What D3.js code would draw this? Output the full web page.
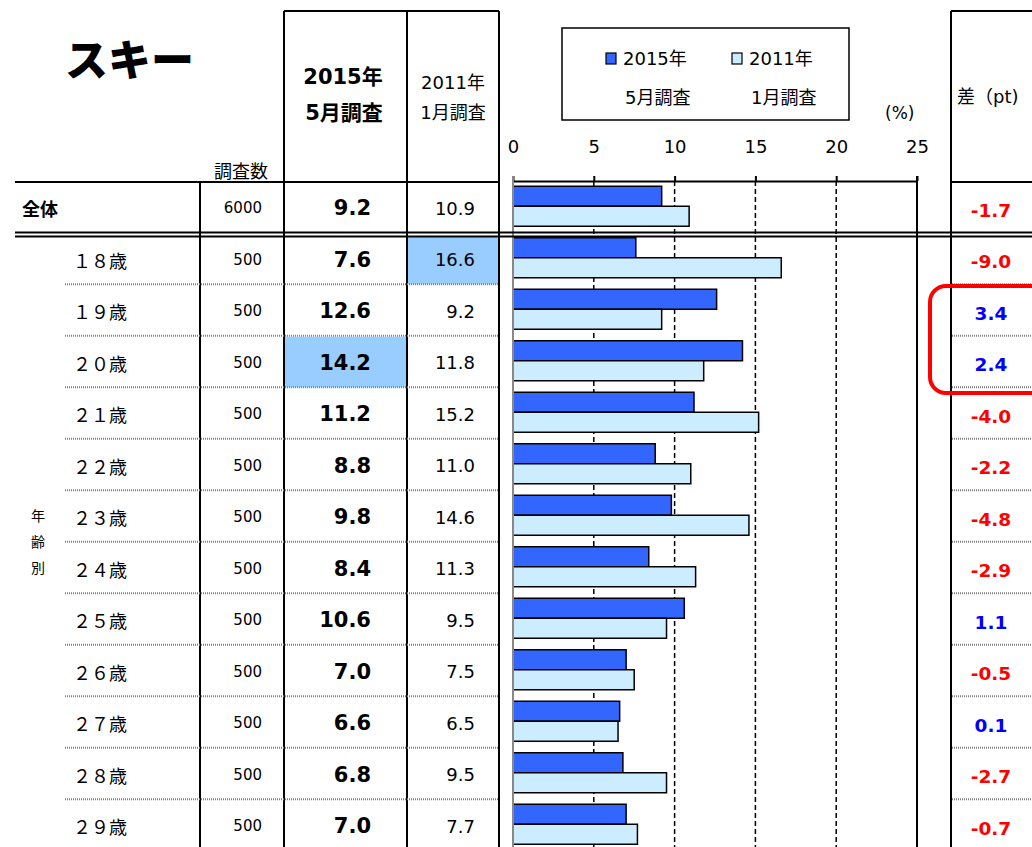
<!DOCTYPE html>
<html><head><meta charset="utf-8">
<script src="https://cdn.jsdelivr.net/npm/d3@7"></script>
<style>
body{margin:0;background:#fff;}
text{font-family:"DejaVu Sans","Noto Sans CJK JP",sans-serif;}
.jp{font-family:"Noto Sans CJK JP",sans-serif;}
</style></head>
<body>
<svg id="c" width="1032" height="847"></svg>
<script>
const title = "スキー";
const categories = ["全体","１８歳","１９歳","２０歳","２１歳","２２歳","２３歳","２４歳","２５歳","２６歳","２７歳","２８歳","２９歳"];
const sampleSizes = [6000,500,500,500,500,500,500,500,500,500,500,500,500];
const values2015 = [9.2,7.6,12.6,14.2,11.2,8.8,9.8,8.4,10.6,7.0,6.6,6.8,7.0];
const values2011 = [10.9,16.6,9.2,11.8,15.2,11.0,14.6,11.3,9.5,7.5,6.5,9.5,7.7];
const diffs = [-1.7,-9.0,3.4,2.4,-4.0,-2.2,-4.8,-2.9,1.1,-0.5,0.1,-2.7,-0.7];
const ticks = [0,5,10,15,20,25];
const seriesNames = [["2015年","5月調査"],["2011年","1月調査"]];
const highlight2015 = ["２０歳"];
const highlight2011 = ["１８歳"];

(function(){
const C_DARK="#3366FF", C_LIGHT="#CCECFF", C_HI="#99CCFF";
const svg = d3.select("#c");
const x = d3.scaleLinear().domain([0,25]).range([513,917]);
const y = d3.scaleBand().domain(categories).range([181.25,181.25+13*51.5]);
const bh = y.bandwidth();

svg.append("g").selectAll("rect").data(categories.filter(c=>highlight2011.includes(c))).join("rect")
  .attr("x",408).attr("width",90).attr("y",c=>y(c)+3.5).attr("height",bh-3.5).attr("fill",C_HI);
svg.append("g").selectAll("rect").data(categories.filter(c=>highlight2015.includes(c))).join("rect")
  .attr("x",285).attr("width",121).attr("y",c=>y(c)+1).attr("height",bh-1).attr("fill",C_HI);

const yTop=181, yBottom=y.range()[1];
svg.append("g").selectAll("line").data(ticks.filter(t=>t>0&&t<25)).join("line")
  .attr("x1",d=>x(d)).attr("x2",d=>x(d)).attr("y1",yTop).attr("y2",yBottom)
  .attr("stroke","#000").attr("stroke-width",1.5).attr("stroke-dasharray","5,3");

const bars = svg.append("g");
bars.selectAll("rect.a").data(categories).join("rect").attr("class","a")
  .attr("x",x(0)).attr("y",c=>y(c)+5).attr("height",20)
  .attr("width",(c,i)=>x(values2015[i])-x(0))
  .attr("fill",C_DARK).attr("stroke","#000").attr("stroke-width",1.5);
bars.selectAll("rect.b").data(categories).join("rect").attr("class","b")
  .attr("x",x(0)).attr("y",c=>y(c)+25).attr("height",20)
  .attr("width",(c,i)=>x(values2011[i])-x(0))
  .attr("fill",C_LIGHT).attr("stroke","#000").attr("stroke-width",1.5);

const ax = svg.append("g").attr("transform","translate(0,181)")
  .call(d3.axisTop(x).tickValues(ticks).tickSize(5).tickSizeOuter(0).tickPadding(23));
ax.select(".domain").attr("stroke","#000").attr("stroke-width",2);
ax.selectAll(".tick line").attr("stroke","#000").attr("stroke-width",2);
ax.selectAll(".tick text").attr("font-size",18).attr("fill","#000").attr("font-family","DejaVu Sans");
svg.append("line").attr("x1",x(0)).attr("x2",x(0)).attr("y1",176).attr("y2",yBottom).attr("stroke","#888").attr("stroke-width",2);
svg.append("line").attr("x1",x(25)).attr("x2",x(25)).attr("y1",176).attr("y2",yBottom).attr("stroke","#000").attr("stroke-width",2);
svg.append("text").attr("x",885).attr("y",113).attr("dominant-baseline","central").attr("font-size",17).text("(%)");

svg.append("rect").attr("x",562).attr("y",28).attr("width",287).attr("height",92).attr("fill","none").attr("stroke","#000").attr("stroke-width",1.5);
const lg = svg.append("g");
[[606,C_DARK],[732,C_LIGHT]].forEach((d,i)=>{
  lg.append("rect").attr("x",d[0]).attr("y",53).attr("width",10).attr("height",11).attr("fill",d[1]).attr("stroke","#000").attr("stroke-width",1.2);
  lg.append("text").attr("x",d[0]+17).attr("y",58).attr("dominant-baseline","central").attr("font-size",18).text(seriesNames[i][0]);
  lg.append("text").attr("x",d[0]+19).attr("y",97).attr("dominant-baseline","central").attr("font-size",18).text(seriesNames[i][1]);
});

const L = svg.append("g").attr("stroke","#000").attr("stroke-width",2);
const line=(x1,y1,x2,y2)=>L.append("line").attr("x1",x1).attr("y1",y1).attr("x2",x2).attr("y2",y2);
line(284,11,499,11); line(951,11,1040,11);
line(15,182,499,182); line(951,182,1040,182);
[284,407,499].forEach(v=>line(v,11,v,yBottom));
line(200,182,200,yBottom);
line(951,11,951,yBottom);
line(15,232.5,1040,232.5); line(15,236.5,1040,236.5);
const D = svg.append("g").attr("stroke","#808080").attr("stroke-width",2).attr("stroke-dasharray","1,1");
categories.slice(2).forEach(c=>{
  D.append("line").attr("x1",65).attr("x2",499).attr("y1",y(c)).attr("y2",y(c));
  D.append("line").attr("x1",952).attr("x2",1040).attr("y1",y(c)).attr("y2",y(c));
});

svg.append("text").attr("class","jp").attr("x",65).attr("y",57).attr("dominant-baseline","central")
  .attr("font-size",43).attr("font-weight",900).text(title);
svg.append("text").attr("class","jp").attr("x",214).attr("y",170).attr("dominant-baseline","central").attr("font-size",18).text("調査数");
svg.append("text").attr("x",343).attr("y",77).attr("text-anchor","middle").attr("dominant-baseline","central").attr("font-size",21).attr("font-weight","bold").text(seriesNames[0][0]);
svg.append("text").attr("x",344).attr("y",113).attr("text-anchor","middle").attr("dominant-baseline","central").attr("font-size",21).attr("font-weight","bold").text(seriesNames[0][1]);
svg.append("text").attr("x",453).attr("y",82).attr("text-anchor","middle").attr("dominant-baseline","central").attr("font-size",18).text(seriesNames[1][0]);
svg.append("text").attr("x",453).attr("y",112).attr("text-anchor","middle").attr("dominant-baseline","central").attr("font-size",18).text(seriesNames[1][1]);
svg.append("text").attr("x",957).attr("y",96).attr("dominant-baseline","central").attr("font-size",18).text("差（pt)");
["年","齢","別"].forEach((ch,i)=>svg.append("text").attr("class","jp").attr("x",38).attr("y",515+i*26)
  .attr("text-anchor","middle").attr("dominant-baseline","central").attr("font-size",14).text(ch));

const R = svg.append("g");
categories.forEach((c,i)=>{
  const cy = y(c)+bh/2+1;
  R.append("text").attr("class","jp").attr("x",i===0?22:73).attr("y",cy).attr("dominant-baseline","central")
    .attr("font-size",18).attr("font-weight",i===0?"bold":"normal").text(c);
  R.append("text").attr("x",262).attr("y",cy).attr("text-anchor","end").attr("dominant-baseline","central").attr("font-size",15).text(sampleSizes[i]);
  R.append("text").attr("x",371).attr("y",cy).attr("text-anchor","end").attr("dominant-baseline","central").attr("font-size",21).attr("font-weight","bold").text(values2015[i].toFixed(1));
  R.append("text").attr("x",475).attr("y",cy).attr("text-anchor","end").attr("dominant-baseline","central").attr("font-size",18).text(values2011[i].toFixed(1));
  R.append("text").attr("x",991).attr("y",cy+2).attr("text-anchor","middle").attr("dominant-baseline","central").attr("font-size",18.5).attr("font-weight","bold")
    .attr("fill",diffs[i]<0?"#FF0000":"#0000FF").text(diffs[i].toFixed(1));
});

svg.append("rect").attr("x",930).attr("y",286).attr("width",130).attr("height",107).attr("rx",16)
  .attr("fill","none").attr("stroke","#FF0000").attr("stroke-width",4);
})();
</script>
</body></html>
